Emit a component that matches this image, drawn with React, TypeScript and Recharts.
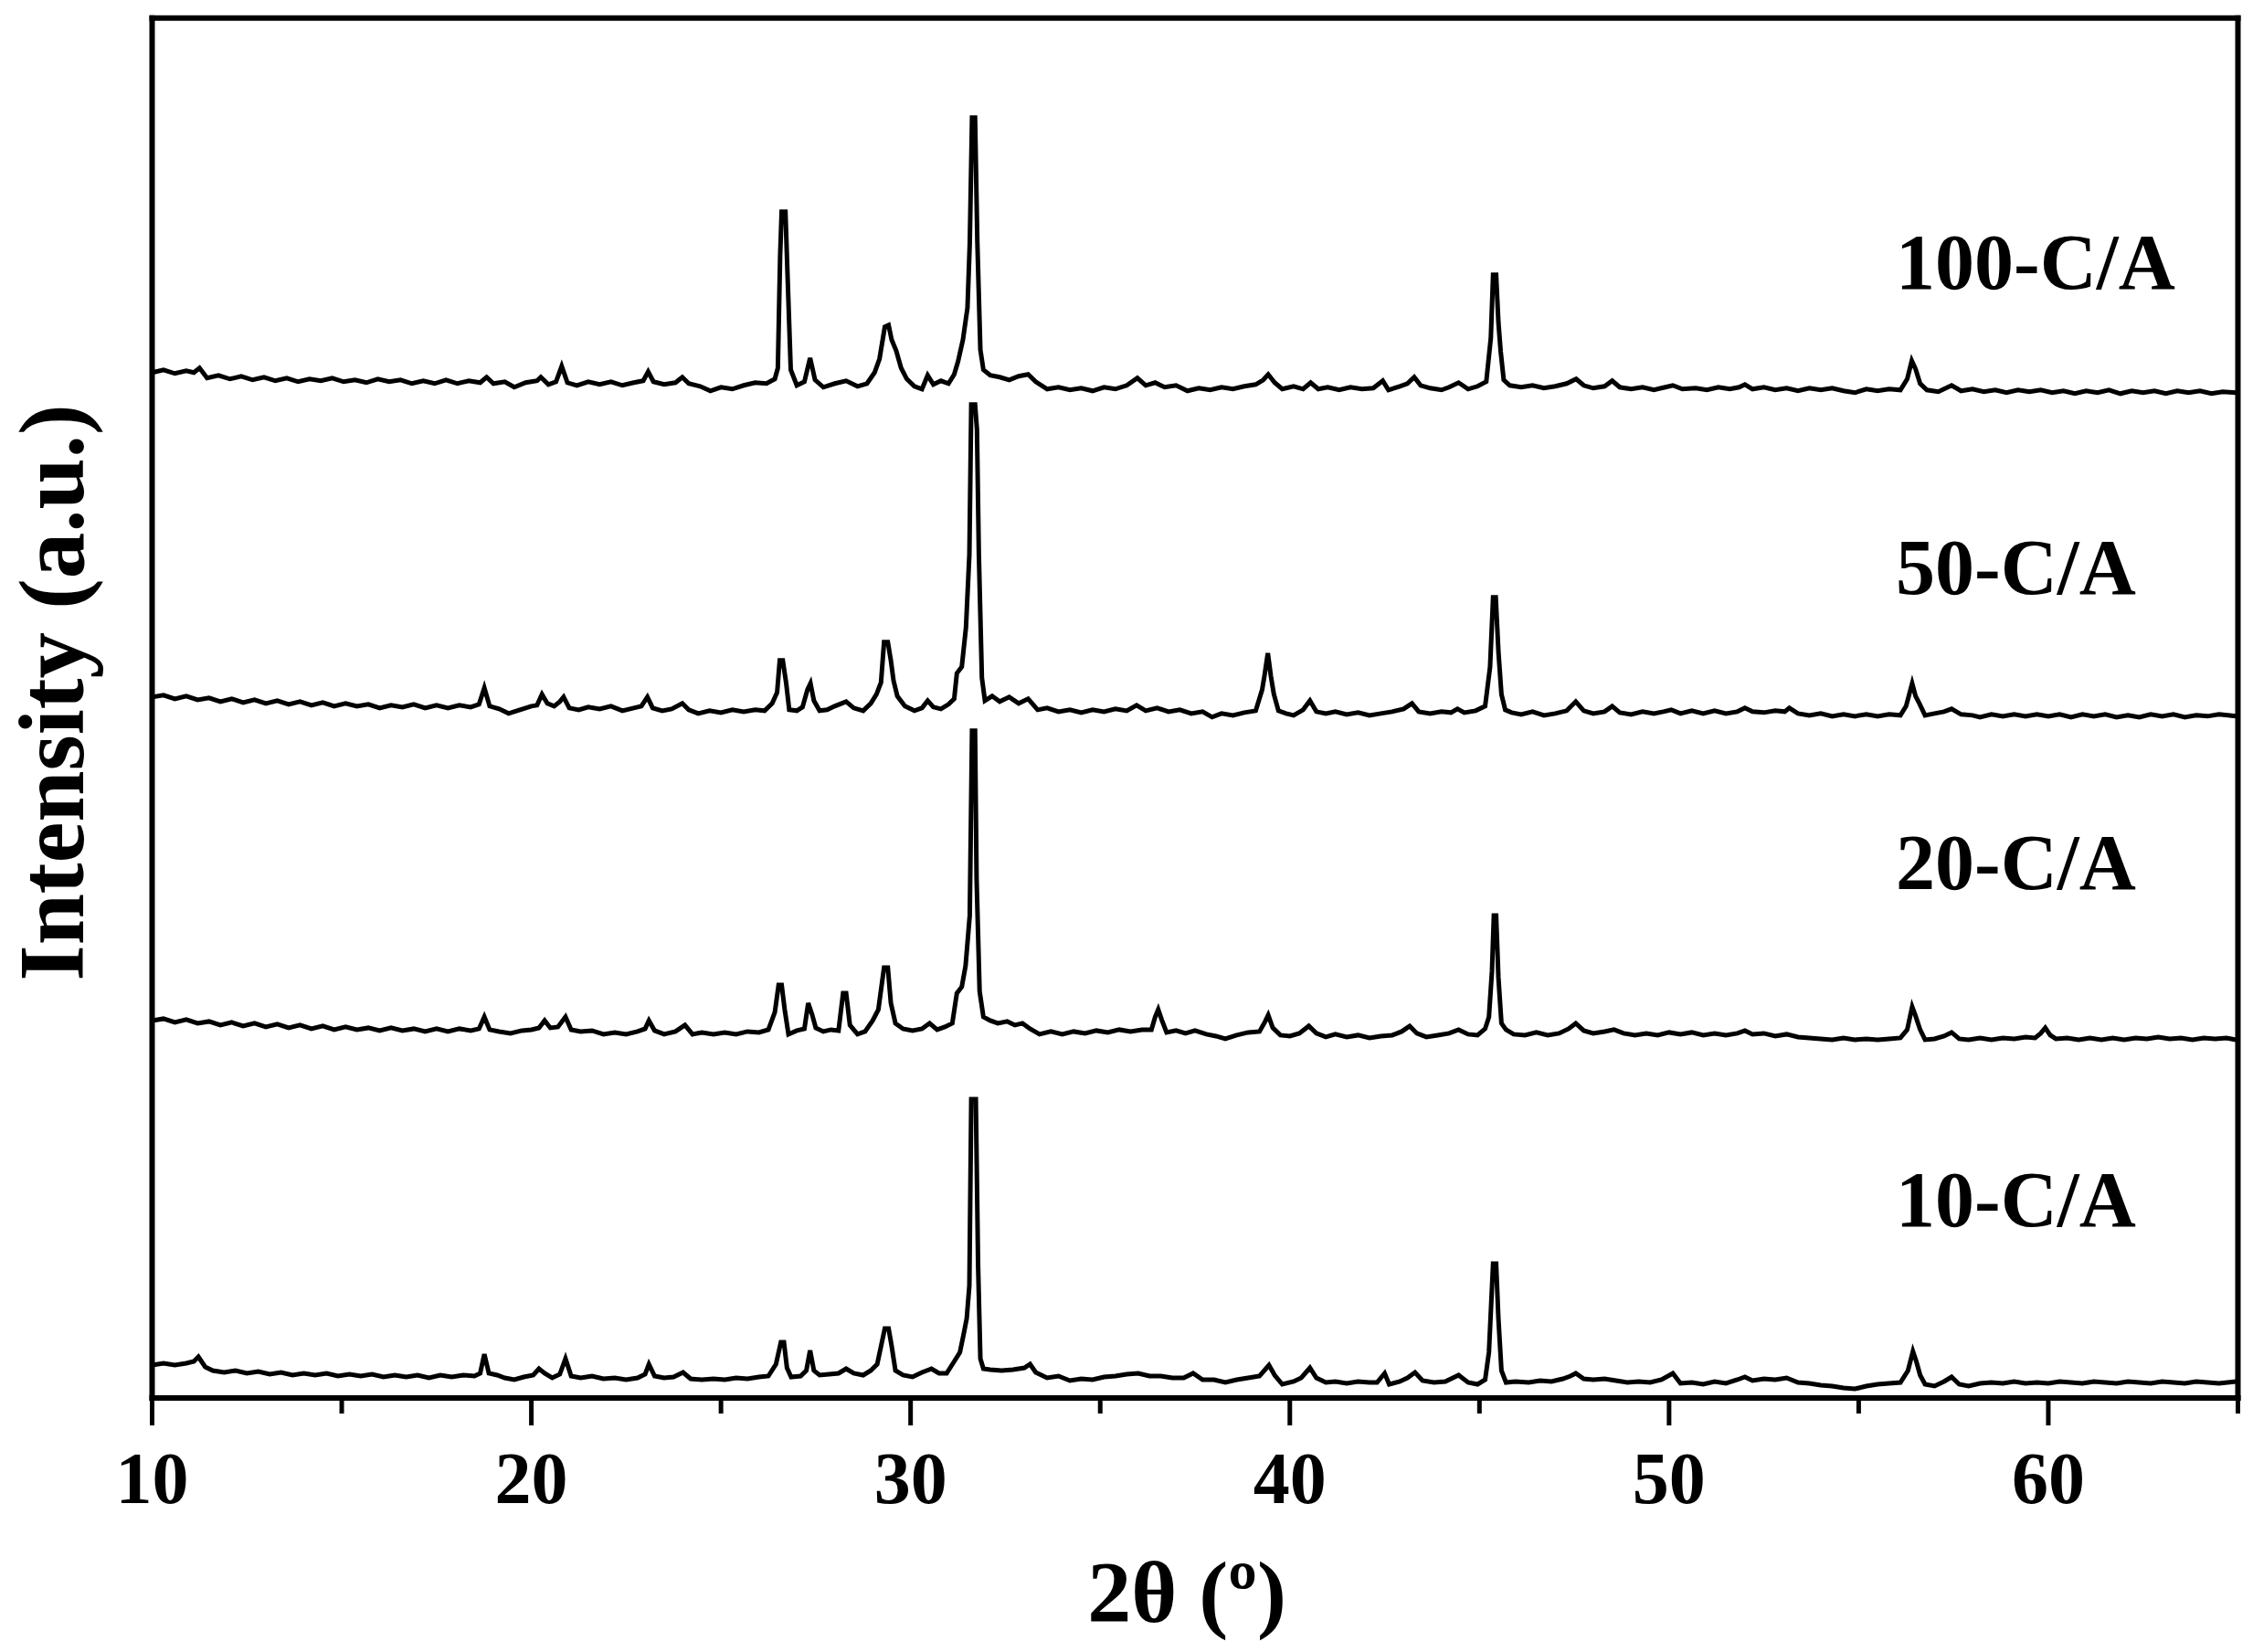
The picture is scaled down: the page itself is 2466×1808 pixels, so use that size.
import { LineChart, Line, XAxis, YAxis } from 'recharts'

// XRD patterns: [2θ (deg), intensity (a.u., stacked)]
const pattern100: [number, number][] = [
  [10.0, 1122], [10.3, 1125], [10.6, 1121], [10.9, 1124], [11.1, 1122], [11.25, 1127], [11.45, 1116], [11.75, 1119],
  [12.05, 1115], [12.35, 1118], [12.65, 1114], [12.95, 1117], [13.25, 1113], [13.55, 1116], [13.85, 1112], [14.15, 1115],
  [14.45, 1113], [14.75, 1116], [15.05, 1112], [15.35, 1114], [15.65, 1111], [15.95, 1115], [16.25, 1112], [16.55, 1114],
  [16.85, 1110], [17.15, 1113], [17.45, 1110], [17.75, 1114], [18.05, 1110], [18.35, 1113], [18.65, 1111], [18.82, 1117],
  [19.0, 1110], [19.3, 1112], [19.55, 1106], [19.85, 1111], [20.15, 1113], [20.25, 1117], [20.45, 1109], [20.65, 1112],
  [20.8, 1129], [20.95, 1111], [21.2, 1108], [21.5, 1112], [21.8, 1109], [22.1, 1112], [22.4, 1108], [22.7, 1111],
  [22.95, 1113], [23.08, 1123], [23.22, 1112], [23.5, 1109], [23.8, 1111], [23.98, 1117], [24.15, 1110], [24.45, 1107],
  [24.72, 1102], [25.0, 1106], [25.3, 1104], [25.6, 1108], [25.9, 1111], [26.2, 1110], [26.42, 1115], [26.5, 1127],
  [26.56, 1250], [26.6, 1298], [26.7, 1298], [26.76, 1223], [26.84, 1125], [27.0, 1108], [27.2, 1112], [27.35, 1138],
  [27.48, 1114], [27.7, 1106], [28.0, 1110], [28.3, 1113], [28.6, 1107], [28.85, 1110], [29.05, 1122], [29.18, 1137],
  [29.32, 1172], [29.42, 1174], [29.5, 1158], [29.62, 1146], [29.75, 1127], [29.9, 1115], [30.1, 1107], [30.3, 1104],
  [30.45, 1119], [30.6, 1109], [30.8, 1113], [31.0, 1110], [31.15, 1120], [31.25, 1134], [31.38, 1158], [31.5, 1193],
  [31.56, 1263], [31.62, 1401], [31.7, 1401], [31.76, 1265], [31.84, 1147], [31.92, 1125], [32.1, 1119], [32.35, 1117],
  [32.6, 1114], [32.85, 1118], [33.1, 1120], [33.3, 1112], [33.6, 1104], [33.9, 1106], [34.2, 1103], [34.5, 1105],
  [34.8, 1102], [35.1, 1106], [35.4, 1104], [35.7, 1108], [35.98, 1116], [36.2, 1108], [36.45, 1111], [36.7, 1106],
  [37.0, 1108], [37.3, 1102], [37.6, 1105], [37.9, 1103], [38.2, 1106], [38.5, 1104], [38.8, 1107], [39.1, 1109],
  [39.3, 1114], [39.43, 1120], [39.6, 1111], [39.8, 1104], [40.1, 1107], [40.35, 1104], [40.55, 1111], [40.75, 1104],
  [41.0, 1106], [41.3, 1103], [41.6, 1106], [41.9, 1104], [42.2, 1105], [42.45, 1113], [42.6, 1103], [42.9, 1107],
  [43.1, 1110], [43.28, 1117], [43.45, 1108], [43.7, 1105], [44.0, 1103], [44.2, 1106], [44.45, 1111], [44.7, 1104],
  [44.95, 1107], [45.18, 1112], [45.3, 1160], [45.36, 1229], [45.44, 1229], [45.5, 1177], [45.56, 1145], [45.64, 1114],
  [45.8, 1108], [46.1, 1106], [46.4, 1108], [46.7, 1105], [47.0, 1107], [47.3, 1110], [47.55, 1115], [47.75, 1108],
  [48.0, 1105], [48.3, 1107], [48.5, 1113], [48.7, 1106], [49.0, 1104], [49.3, 1106], [49.6, 1103], [49.9, 1106],
  [50.1, 1108], [50.35, 1104], [50.7, 1105], [51.0, 1103], [51.3, 1106], [51.6, 1104], [51.85, 1106], [52.0, 1109],
  [52.2, 1104], [52.5, 1106], [52.8, 1103], [53.1, 1105], [53.4, 1102], [53.7, 1105], [54.0, 1103], [54.3, 1105],
  [54.6, 1102], [54.9, 1100], [55.2, 1104], [55.5, 1102], [55.8, 1104], [56.1, 1103], [56.28, 1115], [56.4, 1135],
  [56.5, 1126], [56.62, 1110], [56.8, 1103], [57.1, 1101], [57.45, 1108], [57.7, 1102], [58.0, 1104], [58.3, 1101],
  [58.6, 1103], [58.9, 1100], [59.2, 1103], [59.5, 1101], [59.8, 1103], [60.1, 1100], [60.4, 1102], [60.7, 1099],
  [61.0, 1102], [61.3, 1100], [61.6, 1103], [61.9, 1099], [62.2, 1102], [62.5, 1100], [62.8, 1102], [63.1, 1099],
  [63.4, 1102], [63.7, 1100], [64.0, 1102], [64.3, 1099], [64.6, 1101], [64.95, 1100],
]

const pattern50: [number, number][] = [
  [10.0, 767], [10.3, 769], [10.6, 765], [10.9, 768], [11.2, 764], [11.5, 766], [11.8, 762], [12.1, 765],
  [12.4, 761], [12.7, 764], [13.0, 760], [13.3, 763], [13.6, 759], [13.9, 762], [14.2, 758], [14.5, 761],
  [14.8, 757], [15.1, 760], [15.4, 757], [15.7, 759], [16.0, 755], [16.3, 758], [16.6, 756], [16.9, 759],
  [17.2, 755], [17.5, 758], [17.8, 755], [18.1, 758], [18.4, 756], [18.62, 759], [18.76, 777], [18.9, 757],
  [19.15, 754], [19.4, 749], [19.7, 753], [20.0, 757], [20.15, 758], [20.28, 770], [20.42, 760], [20.6, 757],
  [20.75, 762], [20.85, 767], [21.0, 755], [21.25, 753], [21.5, 756], [21.8, 754], [22.1, 757], [22.4, 752],
  [22.7, 755], [22.9, 757], [23.06, 767], [23.2, 755], [23.45, 752], [23.7, 754], [23.98, 760], [24.15, 753],
  [24.4, 749], [24.7, 752], [25.0, 750], [25.3, 753], [25.6, 751], [25.9, 753], [26.15, 752], [26.35, 760],
  [26.48, 772], [26.55, 807], [26.63, 807], [26.72, 782], [26.8, 753], [27.0, 752], [27.15, 756], [27.28, 775],
  [27.36, 782], [27.45, 763], [27.6, 752], [27.8, 753], [28.0, 757], [28.3, 762], [28.5, 755], [28.75, 752],
  [28.95, 760], [29.1, 770], [29.22, 783], [29.3, 827], [29.4, 827], [29.48, 807], [29.55, 785], [29.65, 768],
  [29.85, 757], [30.1, 752], [30.3, 755], [30.45, 763], [30.6, 756], [30.8, 754], [31.0, 759], [31.15, 765],
  [31.22, 793], [31.35, 800], [31.46, 843], [31.55, 923], [31.6, 1087], [31.7, 1087], [31.75, 1060], [31.8, 923],
  [31.88, 788], [31.96, 763], [32.15, 768], [32.35, 762], [32.6, 767], [32.85, 760], [33.1, 765], [33.35, 753],
  [33.6, 755], [33.9, 751], [34.2, 753], [34.5, 750], [34.8, 753], [35.1, 751], [35.4, 754], [35.7, 752],
  [35.96, 758], [36.2, 752], [36.5, 755], [36.8, 751], [37.1, 753], [37.4, 749], [37.7, 751], [37.95, 745],
  [38.2, 749], [38.5, 747], [38.8, 750], [39.1, 752], [39.27, 775], [39.33, 790], [39.42, 815], [39.5, 790],
  [39.58, 770], [39.7, 752], [39.9, 749], [40.1, 747], [40.35, 753], [40.53, 763], [40.7, 751], [40.95, 749],
  [41.2, 751], [41.5, 748], [41.8, 750], [42.1, 747], [42.4, 749], [42.7, 751], [43.0, 754], [43.22, 760],
  [43.4, 751], [43.7, 749], [44.0, 751], [44.25, 750], [44.42, 754], [44.6, 750], [44.9, 752], [45.15, 757],
  [45.28, 800], [45.36, 876], [45.43, 876], [45.5, 817], [45.58, 770], [45.68, 753], [45.85, 750], [46.1, 748],
  [46.4, 751], [46.7, 747], [47.0, 749], [47.3, 752], [47.54, 762], [47.75, 752], [48.0, 749], [48.3, 751],
  [48.5, 757], [48.7, 750], [49.0, 748], [49.3, 751], [49.6, 749], [49.85, 751], [50.06, 753], [50.3, 749],
  [50.6, 752], [50.9, 749], [51.2, 752], [51.5, 749], [51.8, 751], [52.0, 755], [52.2, 751], [52.5, 750],
  [52.8, 752], [53.05, 751], [53.17, 755], [53.4, 749], [53.7, 747], [54.0, 749], [54.3, 746], [54.6, 748],
  [54.9, 746], [55.2, 748], [55.5, 746], [55.8, 748], [56.1, 747], [56.25, 757], [56.41, 782], [56.5, 768],
  [56.6, 760], [56.75, 747], [57.0, 749], [57.25, 751], [57.45, 754], [57.7, 748], [58.0, 747], [58.2, 745],
  [58.5, 748], [58.8, 746], [59.1, 748], [59.4, 746], [59.7, 748], [60.0, 746], [60.3, 748], [60.6, 745],
  [60.9, 748], [61.2, 746], [61.5, 748], [61.8, 745], [62.1, 747], [62.4, 745], [62.7, 748], [63.0, 746],
  [63.3, 748], [63.6, 745], [63.9, 747], [64.2, 746], [64.5, 748], [64.95, 746],
]

const pattern20: [number, number][] = [
  [10.0, 413], [10.3, 415], [10.6, 411], [10.9, 414], [11.2, 410], [11.5, 412], [11.8, 408], [12.1, 411],
  [12.4, 407], [12.7, 410], [13.0, 406], [13.3, 409], [13.6, 405], [13.9, 408], [14.2, 404], [14.5, 407],
  [14.8, 403], [15.1, 406], [15.4, 403], [15.7, 405], [16.0, 402], [16.3, 405], [16.6, 402], [16.9, 404],
  [17.2, 401], [17.5, 404], [17.8, 401], [18.1, 404], [18.4, 402], [18.62, 404], [18.76, 417], [18.9, 403],
  [19.15, 401], [19.45, 399], [19.75, 402], [20.0, 403], [20.2, 405], [20.35, 413], [20.5, 405], [20.7, 406],
  [20.9, 417], [21.05, 403], [21.3, 401], [21.6, 402], [21.9, 398], [22.2, 400], [22.5, 398], [22.8, 401],
  [23.0, 404], [23.1, 413], [23.25, 402], [23.5, 398], [23.8, 401], [24.05, 408], [24.25, 398], [24.5, 400],
  [24.8, 398], [25.1, 400], [25.4, 398], [25.7, 401], [26.0, 400], [26.25, 403], [26.42, 422], [26.52, 452],
  [26.6, 452], [26.68, 425], [26.78, 398], [27.0, 402], [27.2, 404], [27.3, 432], [27.4, 420], [27.5, 405],
  [27.7, 401], [27.9, 403], [28.1, 402], [28.22, 443], [28.3, 443], [28.4, 408], [28.6, 398], [28.8, 401],
  [29.0, 413], [29.15, 425], [29.3, 471], [29.4, 471], [29.48, 432], [29.6, 410], [29.8, 404], [30.05, 402],
  [30.3, 404], [30.5, 410], [30.7, 403], [30.9, 406], [31.1, 410], [31.22, 443], [31.35, 450], [31.45, 473],
  [31.56, 528], [31.62, 730], [31.7, 730], [31.74, 568], [31.82, 445], [31.92, 417], [32.1, 413], [32.3, 410],
  [32.55, 412], [32.75, 408], [32.95, 410], [33.15, 404], [33.4, 398], [33.7, 401], [34.0, 398], [34.3, 401],
  [34.6, 399], [34.9, 402], [35.2, 400], [35.5, 403], [35.8, 401], [36.1, 403], [36.35, 403], [36.45, 417],
  [36.53, 425], [36.62, 414], [36.75, 400], [37.0, 402], [37.25, 399], [37.5, 402], [37.8, 398], [38.05, 396],
  [38.3, 393], [38.6, 397], [38.9, 400], [39.2, 401], [39.35, 412], [39.43, 419], [39.55, 405], [39.75, 397],
  [40.0, 396], [40.25, 399], [40.5, 407], [40.7, 399], [40.95, 395], [41.2, 398], [41.5, 395], [41.8, 397],
  [42.1, 394], [42.4, 396], [42.7, 397], [42.95, 401], [43.16, 407], [43.35, 399], [43.6, 395], [43.9, 397],
  [44.2, 399], [44.45, 403], [44.7, 398], [44.95, 397], [45.15, 404], [45.25, 417], [45.33, 467], [45.38, 528],
  [45.44, 528], [45.5, 460], [45.58, 410], [45.7, 403], [45.9, 398], [46.2, 397], [46.5, 400], [46.8, 397],
  [47.1, 399], [47.35, 404], [47.54, 410], [47.75, 402], [48.0, 399], [48.3, 401], [48.55, 403], [48.8, 399],
  [49.1, 397], [49.4, 399], [49.7, 397], [50.0, 400], [50.3, 398], [50.6, 400], [50.9, 397], [51.2, 399],
  [51.5, 397], [51.8, 399], [52.0, 402], [52.2, 398], [52.5, 399], [52.8, 396], [53.1, 398], [53.4, 395],
  [53.7, 394], [54.0, 393], [54.3, 392], [54.6, 394], [54.9, 392], [55.2, 393], [55.5, 392], [55.8, 393],
  [56.1, 394], [56.28, 403], [56.41, 428], [56.5, 418], [56.62, 403], [56.75, 392], [57.0, 393], [57.25, 396],
  [57.45, 400], [57.65, 393], [57.9, 392], [58.2, 394], [58.5, 392], [58.8, 394], [59.1, 393], [59.4, 395],
  [59.65, 394], [59.8, 399], [59.92, 405], [60.05, 397], [60.2, 393], [60.5, 394], [60.8, 392], [61.1, 394],
  [61.4, 392], [61.7, 394], [62.0, 392], [62.3, 394], [62.6, 393], [62.9, 395], [63.2, 393], [63.5, 394],
  [63.8, 392], [64.1, 394], [64.4, 393], [64.7, 394], [64.95, 392],
]

const pattern10: [number, number][] = [
  [10.0, 36], [10.3, 38], [10.6, 36], [10.9, 38], [11.1, 40], [11.22, 45], [11.4, 34], [11.6, 30],
  [11.9, 28], [12.2, 30], [12.5, 27], [12.8, 29], [13.1, 26], [13.4, 28], [13.7, 25], [14.0, 27],
  [14.3, 25], [14.6, 27], [14.9, 24], [15.2, 26], [15.5, 24], [15.8, 26], [16.1, 23], [16.4, 25],
  [16.7, 23], [17.0, 25], [17.3, 22], [17.6, 25], [17.9, 23], [18.2, 25], [18.5, 24], [18.65, 27],
  [18.76, 48], [18.88, 27], [19.1, 25], [19.3, 22], [19.55, 20], [19.8, 23], [20.05, 25], [20.2, 32],
  [20.35, 27], [20.55, 22], [20.75, 26], [20.9, 43], [21.05, 24], [21.3, 22], [21.6, 24], [21.9, 21],
  [22.2, 22], [22.5, 20], [22.8, 22], [23.0, 26], [23.1, 37], [23.25, 24], [23.5, 22], [23.75, 23],
  [24.0, 28], [24.2, 21], [24.5, 20], [24.8, 21], [25.1, 20], [25.4, 22], [25.7, 21], [26.0, 23],
  [26.25, 24], [26.45, 37], [26.58, 61], [26.66, 61], [26.74, 33], [26.85, 23], [27.1, 24], [27.25, 30],
  [27.35, 52], [27.45, 30], [27.6, 25], [27.85, 26], [28.1, 27], [28.3, 32], [28.5, 27], [28.75, 25],
  [28.95, 30], [29.12, 37], [29.32, 76], [29.42, 76], [29.5, 57], [29.6, 30], [29.8, 25], [30.05, 23],
  [30.3, 28], [30.55, 32], [30.75, 27], [30.95, 27], [31.15, 40], [31.3, 50], [31.4, 70], [31.48, 87],
  [31.55, 123], [31.6, 327], [31.72, 327], [31.78, 145], [31.84, 43], [31.92, 32], [32.1, 31], [32.4, 30],
  [32.7, 31], [33.0, 33], [33.15, 37], [33.3, 28], [33.6, 22], [33.9, 24], [34.2, 19], [34.5, 21],
  [34.8, 20], [35.1, 23], [35.4, 24], [35.7, 26], [36.0, 27], [36.3, 24], [36.6, 24], [36.9, 22],
  [37.2, 22], [37.45, 27], [37.7, 20], [38.0, 20], [38.3, 17], [38.6, 20], [38.9, 22], [39.2, 24],
  [39.45, 36], [39.6, 25], [39.8, 15], [40.1, 18], [40.3, 22], [40.53, 33], [40.7, 22], [40.95, 17],
  [41.2, 18], [41.5, 16], [41.8, 18], [42.1, 17], [42.3, 17], [42.5, 27], [42.62, 15], [42.9, 18],
  [43.1, 22], [43.3, 28], [43.5, 19], [43.8, 17], [44.1, 18], [44.45, 25], [44.7, 17], [44.95, 15],
  [45.15, 20], [45.25, 50], [45.36, 147], [45.44, 147], [45.5, 87], [45.58, 30], [45.7, 17], [45.95, 18],
  [46.3, 17], [46.6, 19], [46.9, 18], [47.2, 21], [47.4, 24], [47.54, 27], [47.75, 21], [48.0, 20],
  [48.3, 21], [48.6, 19], [48.9, 17], [49.2, 18], [49.5, 17], [49.8, 20], [50.1, 27], [50.3, 16],
  [50.6, 17], [50.9, 15], [51.2, 18], [51.5, 16], [51.8, 20], [52.0, 23], [52.2, 19], [52.5, 21],
  [52.8, 20], [53.1, 22], [53.4, 17], [53.7, 16], [54.0, 14], [54.3, 13], [54.6, 11], [54.9, 10],
  [55.2, 13], [55.5, 15], [55.8, 16], [56.1, 17], [56.3, 30], [56.43, 51], [56.52, 40], [56.62, 25],
  [56.75, 15], [57.0, 13], [57.25, 18], [57.45, 23], [57.65, 15], [57.9, 13], [58.2, 16], [58.5, 17],
  [58.8, 16], [59.1, 18], [59.4, 16], [59.7, 17], [60.0, 16], [60.3, 18], [60.6, 17], [60.9, 16],
  [61.2, 18], [61.5, 17], [61.8, 16], [62.1, 18], [62.4, 17], [62.7, 16], [63.0, 18], [63.3, 17],
  [63.6, 16], [63.9, 18], [64.2, 17], [64.5, 16], [64.95, 18],
]

const sampleNames = ['100-C/A', '50-C/A', '20-C/A', '10-C/A']
const patterns = [pattern100, pattern50, pattern20, pattern10]
const xTicks = [10, 15, 20, 25, 30, 35, 40, 45, 50, 55, 60, 65]

// where the sample names sit (px, text baseline)
const nameX = 2075
const nameY = [316, 650, 973, 1342]

const FONT = "'Liberation Serif', 'Times New Roman', Times, serif"
const W = 2466
const H = 1808

const BottomTick = (props: any) => {
  const { x, y, payload } = props
  const major = payload.value % 10 === 0
  return (
    <g>
      <line x1={x} x2={x} y1={y} y2={y + (major ? 30 : 17)} stroke="#000" strokeWidth={5} />
      {major && (
        <text x={x} y={y + 115} textAnchor="middle" fontFamily={FONT} fontWeight={700} fontSize={80} fill="#000">
          {payload.value}
        </text>
      )}
    </g>
  )
}

export default function App() {
  const series = patterns.map(p => p.map(([t, v]) => ({ t, v })))
  const axisLine = { stroke: '#000', strokeWidth: 6, strokeLinecap: 'square' as const }

  // axes need a size of at least 1px or recharts skips them
  return (
    <div style={{ position: 'absolute', left: 0, top: 0, width: W, height: H, background: '#fff' }}>
      <LineChart width={W} height={H} margin={{ top: 18.7, right: 15.5, bottom: 277, left: 165.5 }}>
        <XAxis
          xAxisId="b"
          dataKey="t"
          type="number"
          domain={[10, 65]}
          allowDataOverflow
          ticks={xTicks}
          interval={0}
          height={1}
          tickSize={0}
          tickMargin={0}
          tickLine={false}
          axisLine={axisLine}
          tick={<BottomTick />}
        />
        <XAxis xAxisId="top" orientation="top" type="number" domain={[10, 65]} allowDataOverflow height={1} tick={false} tickLine={false} axisLine={axisLine} />
        <YAxis yAxisId="l" type="number" domain={[0, 1510]} allowDataOverflow width={1} tick={false} tickLine={false} axisLine={axisLine} />
        <YAxis yAxisId="r" orientation="right" type="number" domain={[0, 1510]} allowDataOverflow width={1} tick={false} tickLine={false} axisLine={axisLine} />
        {series.map((d, i) => (
          <Line
            key={sampleNames[i]}
            data={d}
            dataKey="v"
            xAxisId="b"
            yAxisId="l"
            type="linear"
            stroke="#000"
            strokeWidth={5}
            dot={false}
            activeDot={false}
            isAnimationActive={false}
          />
        ))}
        {sampleNames.map((name, i) => (
          <text key={name} x={nameX} y={nameY[i]} fontFamily={FONT} fontWeight={700} fontSize={86} fill="#000">
            {name}
          </text>
        ))}
        <text x={91} y={758} transform="rotate(-90 91 758)" textAnchor="middle" fontFamily={FONT} fontWeight={700} fontSize={101} fill="#000">
          Intensity (a.u.)
        </text>
        <text x={1299} y={1775} textAnchor="middle" fontFamily={FONT} fontWeight={700} fontSize={96} fill="#000">
          2θ (º)
        </text>
      </LineChart>
    </div>
  )
}
